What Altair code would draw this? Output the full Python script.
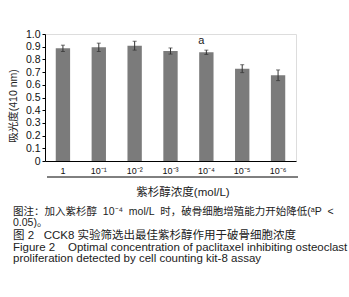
import altair as alt
import pandas as pd

categories = ["1", "10⁻¹", "10⁻²", "10⁻³", "10⁻⁴", "10⁻⁵", "10⁻⁶"]
values = [0.887, 0.895, 0.908, 0.866, 0.856, 0.727, 0.675]
errors = [0.025, 0.033, 0.035, 0.024, 0.017, 0.031, 0.042]
y_ticks = [0, 0.1, 0.2, 0.3, 0.4, 0.5, 0.6, 0.7, 0.8, 0.9, 1.0]
annot_cat = ["10⁻⁴"]
annot_text = ["a"]

NB = "\u00a0"
x_title = "紫杉醇浓度(mol/L)"
y_title = "吸光度(410 nm)"
caption = [
    f"图注：加入紫杉醇{NB}{NB}10⁻⁴{NB}{NB}mol/L{NB}{NB}时，破骨细胞增殖能力开始降低(ᵃP{NB}{NB}<",
    "0.05)。",
    f"图{NB}2{NB}{NB}{NB}CCK8{NB}实验筛选出最佳紫杉醇作用于破骨细胞浓度",
    f"Figure{NB}2{NB}{NB}{NB}{NB}Optimal concentration of paclitaxel inhibiting osteoclast",
    "proliferation detected by cell counting kit-8 assay",
]
caption_sizes = [10.5, 10.5, 11.5, 11.5, 11.5]
caption_y = [178, 189, 202, 214, 225]

FONT = "Liberation Sans, Arial, Noto Sans CJK SC"
W, H = 251, 127

df = pd.DataFrame({"cat": categories, "v": values, "e": errors})
df["lo"] = df["v"] - df["e"]
df["hi"] = df["v"] + df["e"]

xaxis = alt.Axis(title=None, labelAngle=0, ticks=False, domainColor="#000",
                 labelFont=FONT, labelFontSize=9, labelColor="#111", labelPadding=5)
yaxis = alt.Axis(title=None, values=y_ticks, grid=False, domainColor="#000",
                 tickColor="#000", tickSize=3, labelFont=FONT, labelFontSize=10.5,
                 labelColor="#111", labelPadding=2, labelOverlap=False,
                 labelExpr="datum.value == 0 ? '0' : format(datum.value, '.1f')")
xscale = alt.Scale(paddingInner=0.6, paddingOuter=0.3)
yscale = alt.Scale(domain=[0, 1.0], nice=False)

def X():
    return alt.X("cat:N", sort=categories, scale=xscale, axis=xaxis)

def Y(field):
    return alt.Y(field, type="quantitative", scale=yscale, axis=yaxis)

base = alt.Chart(df)
bars = base.mark_bar(color="#7b7b7b").encode(x=X(), y=Y("v"))
err = base.mark_rule(color="#333", strokeWidth=1).encode(x=X(), y=Y("lo"), y2="hi:Q")
cap_hi = base.mark_tick(color="#333", size=4, thickness=1).encode(x=X(), y=Y("hi"))
cap_lo = base.mark_tick(color="#333", size=4, thickness=1).encode(x=X(), y=Y("lo"))

annot = alt.Chart(pd.DataFrame({"cat": annot_cat, "t": annot_text})).mark_text(
    font=FONT, fontSize=11, color="#222", dx=-5).encode(
    x=X(), y=alt.value(7), text="t:N")

rule2 = alt.Chart(pd.DataFrame({"a": [0]})).mark_rule(color="#000", strokeWidth=1).encode(
    x=alt.value(2), x2=alt.value(253), y=alt.value(143))

xt = alt.Chart(pd.DataFrame({"t": [x_title]})).mark_text(
    font=FONT, fontSize=11.5, color="#222").encode(
    x=alt.value(138), y=alt.value(159), text="t:N")
yt = alt.Chart(pd.DataFrame({"t": [y_title]})).mark_text(
    font=FONT, fontSize=10.5, color="#222", angle=270).encode(
    x=alt.value(-31), y=alt.value(72), text="t:N")

cap_layers = []
for t, s, yy in zip(caption, caption_sizes, caption_y):
    cap_layers.append(
        alt.Chart(pd.DataFrame({"t": [t]})).mark_text(
            font=FONT, fontSize=s, color="#222", align="left", baseline="middle").encode(
            x=alt.value(-32), y=alt.value(yy), text="t:N"))

chart = alt.layer(bars, err, cap_hi, cap_lo, annot, rule2, xt, yt, *cap_layers).properties(
    width=W, height=H,
    autosize=alt.AutoSizeParams(type="none"),
    padding={"left": 45, "top": 34, "right": 53, "bottom": 136},
).configure_view(stroke=None).configure(background="white")

chart.save("out.html", embed_options={"renderer": "svg", "actions": False})
